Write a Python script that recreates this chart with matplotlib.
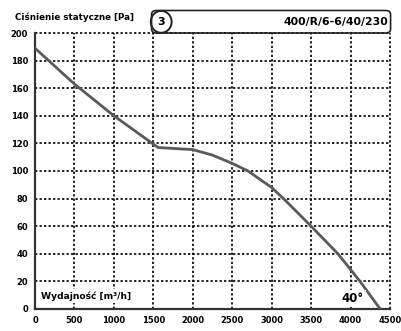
import numpy as np
import matplotlib.pyplot as plt
from matplotlib.patches import FancyBboxPatch, Ellipse

# curve
flow = [0, 500, 1000, 1560, 2000, 2250, 2500, 2700, 3000, 3150, 3500, 3840, 4120, 4375]
pressure = [189, 163, 140, 117, 115.5, 111.5, 105.5, 100, 88, 80, 60, 40, 20, 0]

x_ticks = [0, 500, 1000, 1500, 2000, 2500, 3000, 3500, 4000, 4500]
y_ticks = [0, 20, 40, 60, 80, 100, 120, 140, 160, 180, 200]

fig = plt.figure(figsize=(4.01, 3.31), dpi=100)
ax = fig.add_axes([0.0873, 0.0665, 0.8853, 0.8338])

ax.set_xlim(0, 4500)
ax.set_ylim(0, 200)

## dotted grid
grid_style = dict(color="black", lw=1.2, linestyle=(0, (1.4, 1.3)), clip_on=False, zorder=1)
for xv in x_ticks[1:]:
    ax.plot([xv, xv], [0, 200], **grid_style)
for yv in y_ticks[1:]:
    ax.plot([0, 4500], [yv, yv], **grid_style)

ax.plot(flow, pressure, color="#5a5a5a", lw=2.0, zorder=3,
        solid_capstyle="round", solid_joinstyle="round")

for s in ["top", "right"]:
    ax.spines[s].set_visible(False)
for s in ["left", "bottom"]:
    ax.spines[s].set_linewidth(1.6)
    ax.spines[s].set_color("#333333")

ax.set_xticks(x_ticks)
ax.set_yticks(y_ticks)
ax.tick_params(length=0, labelsize=6, pad=5)
for lab in ax.get_xticklabels() + ax.get_yticklabels():
    lab.set_fontweight("bold")

bg = dict(facecolor="white", edgecolor="none", pad=1.5)
ax.text(80, 6, "Wydajność [m³/h]", fontsize=6.6, fontweight="bold", va="bottom", ha="left",
        zorder=4, bbox=bg)
ax.text(4030, 3, "40°", fontsize=8.5, fontweight="bold", va="bottom", ha="center",
        zorder=4, bbox=bg)

## header
fig.text(0.037, 0.947, "Ciśnienie statyczne [Pa]", fontsize=6.3, fontweight="bold", va="center", ha="left")
box = FancyBboxPatch((0.378, 0.9003), 0.596, 0.068, boxstyle="round,pad=0,rounding_size=0.012",
                     transform=fig.transFigure, fill=False, lw=1.2, ec="#222222")
fig.add_artist(box)
circ = Ellipse((0.402, 0.934), 0.052, 0.066, transform=fig.transFigure, fill=False, lw=1.4, ec="#222222")
fig.add_artist(circ)
fig.text(0.402, 0.934, "3", fontsize=8, fontweight="bold", va="center", ha="center")
fig.text(0.967, 0.934, "400/R/6-6/40/230", fontsize=7.8, fontweight="bold", va="center", ha="right")

fig.savefig("out.png", dpi=100)
